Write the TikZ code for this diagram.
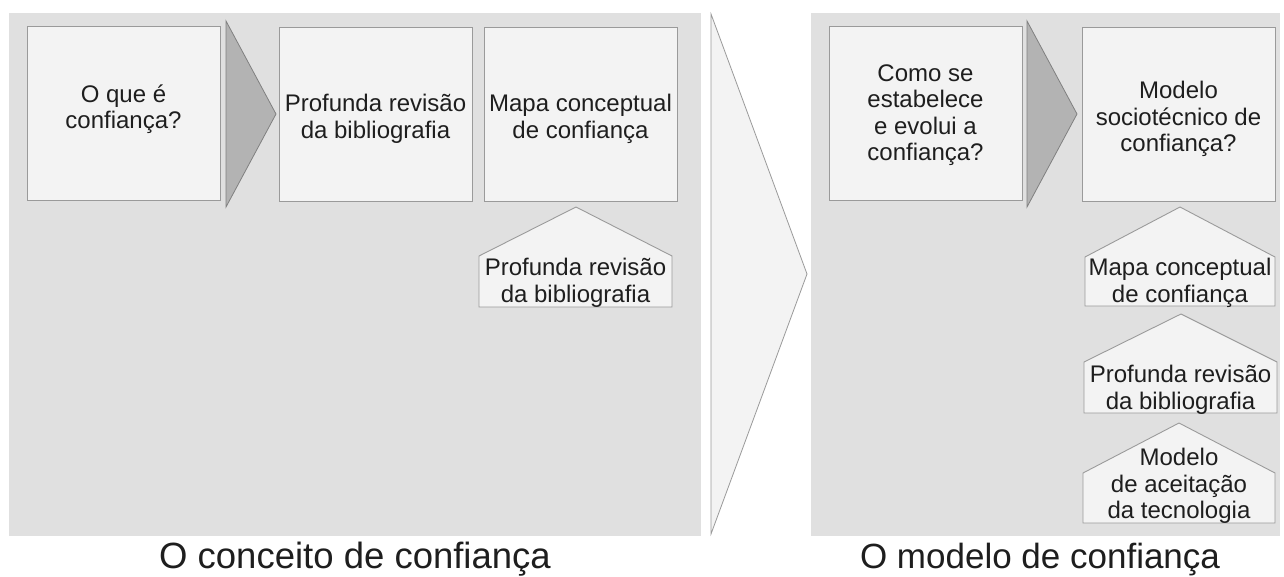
\documentclass[tikz,border=0pt]{standalone}
\usepackage{fontspec}
\setmainfont{Liberation Sans}
\definecolor{panelgray}{HTML}{E0E0E0}
\definecolor{boxfill}{HTML}{F3F3F3}
\definecolor{boxline}{HTML}{9A9A9A}
\definecolor{chevfill}{HTML}{B3B3B3}
\definecolor{chevline}{HTML}{808080}
\definecolor{txtcol}{HTML}{1E1E1E}
\begin{document}
\begin{tikzpicture}[x=1pt,y=-1pt,
  panel/.style={fill=panelgray,draw=none},
  box/.style={fill=boxfill,draw=boxline,line width=0.9pt},
  chev/.style={fill=chevfill,draw=chevline,line width=0.8pt},
  bigarrow/.style={fill=boxfill,draw=boxline,line width=0.8pt},
  txt/.style={align=center,font=\fontsize{24}{26.5}\selectfont,text=txtcol,inner sep=0pt},
  capt/.style={text=txtcol,inner sep=0pt,anchor=base}]
\fill[white] (0,0) rectangle (1284,576);
\useasboundingbox (0,0) rectangle (1284,576);
% panels
\fill[panel] (9,13) rectangle (701,536);
\fill[panel] (811,13) rectangle (1280,536);
% big arrow
\draw[bigarrow] (711,14) -- (807,274) -- (711,534) -- cycle;
% left panel
\draw[box] (27,26) rectangle (220,200);
\draw[chev] (226,21) -- (276,114) -- (226,207) -- cycle;
\draw[box] (279,27) rectangle (472,201);
\draw[box] (484,27) rectangle (677,201);
\draw[box] (479,307) -- (479,256) -- (576,207) -- (672,256) -- (672,307) -- cycle;
\node[txt] (t1) at (123.5,109) {O que é\\confiança?};
\node[txt] (t2) at (375.5,119) {Profunda revisão\\da bibliografia};
\node[txt] (t3) at (580.5,119) {Mapa conceptual\\de confiança};
\node[txt] (t4) at (575.5,283) {Profunda revisão\\da bibliografia};
% right panel
\draw[box] (829,26) rectangle (1022,200);
\draw[chev] (1027,21) -- (1077,114) -- (1027,207) -- cycle;
\draw[box] (1082,27) rectangle (1275,201);
\draw[box] (1085,306) -- (1085,257) -- (1180,207) -- (1275,257) -- (1275,306) -- cycle;
\draw[box] (1084,413) -- (1084,362) -- (1181,314) -- (1277,362) -- (1277,413) -- cycle;
\draw[box] (1083,523) -- (1083,473) -- (1179,423) -- (1275,473) -- (1275,523) -- cycle;
\node[txt] (r1) at (925.5,115) {Como se\\estabelece\\e evolui a\\confiança?};
\node[txt] (r2) at (1178.5,119) {Modelo\\sociotécnico de\\confiança?};
\node[txt] (r3) at (1180,283) {Mapa conceptual\\de confiança};
\node[txt] (r4) at (1180.5,390) {Profunda revisão\\da bibliografia};
\node[txt] (r5) at (1179,486) {Modelo\\de aceitação\\da tecnologia};
% captions
\node[capt,font=\fontsize{36.5}{40}\selectfont] (c1) at (355,568) {O conceito de confiança};
\node[capt,font=\fontsize{35}{40}\selectfont] (c2) at (1040,568) {O modelo de confiança};
\end{tikzpicture}
\end{document}
